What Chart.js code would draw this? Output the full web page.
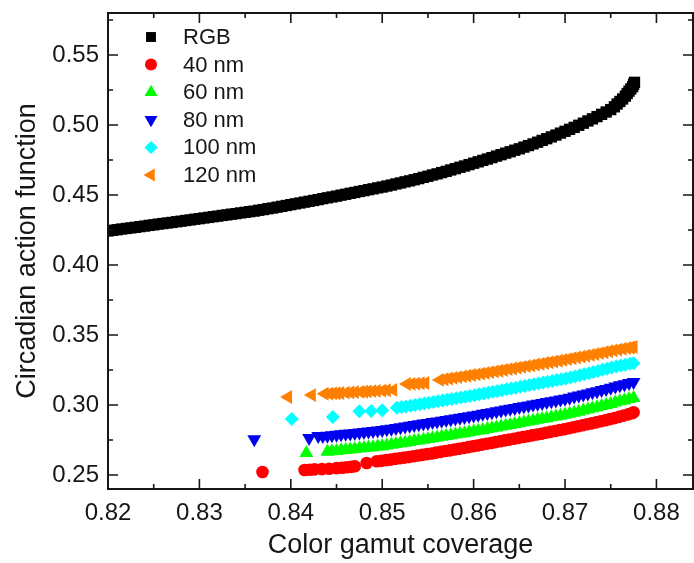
<!DOCTYPE html>
<html>
<head>
<meta charset="utf-8">
<script src="https://cdn.jsdelivr.net/npm/chart.js@4.4.1/dist/chart.umd.min.js"></script>
<style>
  html, body { margin: 0; padding: 0; background: #fff; overflow: hidden; }
  #wrap { width: 694px; height: 563px; }
  canvas { display: block; }
</style>
</head>
<body>
<div id="wrap"><canvas id="chart"></canvas></div>
<script>
// values
const rgbX = [0.8200, 0.8205, 0.8210, 0.8215, 0.8220, 0.8225, 0.8230, 0.8235, 0.8240, 0.8245,
  0.8250, 0.8255, 0.8260, 0.8265, 0.8270, 0.8275, 0.8280, 0.8285, 0.8290, 0.8295,
  0.8300, 0.8305, 0.8310, 0.8315, 0.8320, 0.8325, 0.8330, 0.8335, 0.8340, 0.8345,
  0.8350, 0.8355, 0.8360, 0.8365, 0.8370, 0.8375, 0.8380, 0.8385, 0.8390, 0.8395,
  0.8400, 0.8405, 0.8410, 0.8415, 0.8420, 0.8425, 0.8430, 0.8435, 0.8440, 0.8445,
  0.8450, 0.8455, 0.8460, 0.8465, 0.8470, 0.8475, 0.8480, 0.8485, 0.8490, 0.8495,
  0.8500, 0.8505, 0.8510, 0.8515, 0.8520, 0.8525, 0.8530, 0.8535, 0.8540, 0.8545,
  0.8550, 0.8555, 0.8560, 0.8565, 0.8570, 0.8575, 0.8580, 0.8585, 0.8590, 0.8595,
  0.8600, 0.8605, 0.8610, 0.8615, 0.8620, 0.8625, 0.8630, 0.8635, 0.8640, 0.8645,
  0.8650, 0.8655, 0.8660, 0.8665, 0.8670, 0.8675, 0.8680, 0.8685, 0.8690, 0.8695,
  0.8700, 0.8705, 0.8710, 0.8715, 0.8720, 0.8725, 0.8730, 0.8735, 0.8740, 0.8745,
  0.8750, 0.8754, 0.8757, 0.8760, 0.8763, 0.8766, 0.8768, 0.8770, 0.8772, 0.8774,
  0.8775, 0.8776];
const rgbY = [0.4243, 0.4248, 0.4252, 0.4257, 0.4261, 0.4265, 0.4269, 0.4274, 0.4278, 0.4283,
  0.4287, 0.4292, 0.4296, 0.4300, 0.4304, 0.4309, 0.4313, 0.4318, 0.4322, 0.4327,
  0.4331, 0.4336, 0.4340, 0.4345, 0.4349, 0.4354, 0.4358, 0.4363, 0.4367, 0.4372,
  0.4376, 0.4381, 0.4385, 0.4391, 0.4396, 0.4402, 0.4407, 0.4413, 0.4419, 0.4425,
  0.4431, 0.4437, 0.4443, 0.4449, 0.4455, 0.4461, 0.4467, 0.4474, 0.4480, 0.4486,
  0.4492, 0.4499, 0.4505, 0.4512, 0.4518, 0.4525, 0.4531, 0.4538, 0.4544, 0.4551,
  0.4557, 0.4564, 0.4571, 0.4579, 0.4586, 0.4594, 0.4601, 0.4609, 0.4617, 0.4626,
  0.4634, 0.4643, 0.4651, 0.4660, 0.4669, 0.4679, 0.4688, 0.4698, 0.4707, 0.4717,
  0.4727, 0.4737, 0.4747, 0.4757, 0.4767, 0.4778, 0.4788, 0.4799, 0.4809, 0.4820,
  0.4830, 0.4842, 0.4853, 0.4865, 0.4877, 0.4890, 0.4902, 0.4915, 0.4928, 0.4942,
  0.4955, 0.4969, 0.4983, 0.4998, 0.5013, 0.5029, 0.5044, 0.5060, 0.5076, 0.5093,
  0.5110, 0.5130, 0.5150, 0.5168, 0.5186, 0.5206, 0.5225, 0.5242, 0.5258, 0.5274,
  0.5290, 0.5305];

const nm40X = [0.8369, 0.8415, 0.8421, 0.8426, 0.8434, 0.8442, 0.8450, 0.8456, 0.8461, 0.8466,
  0.8470, 0.8483,
  0.8494, 0.8499, 0.8504, 0.8509, 0.8514, 0.8519, 0.8524, 0.8529, 0.8534, 0.8539,
  0.8544, 0.8549, 0.8554, 0.8559, 0.8564, 0.8569, 0.8574, 0.8579, 0.8584, 0.8589,
  0.8594, 0.8599, 0.8604, 0.8609, 0.8614, 0.8619, 0.8624, 0.8629, 0.8634, 0.8639,
  0.8644, 0.8649, 0.8654, 0.8659, 0.8664, 0.8669, 0.8674, 0.8679, 0.8684, 0.8689,
  0.8694, 0.8699, 0.8704, 0.8709, 0.8714, 0.8719, 0.8724, 0.8729, 0.8734, 0.8739,
  0.8744, 0.8749, 0.8754, 0.8759, 0.8764, 0.8769, 0.8773, 0.8775];
const nm40Y = [0.2521, 0.2536, 0.2538, 0.2540, 0.2542, 0.2545, 0.2549, 0.2552, 0.2555, 0.2558,
  0.2562, 0.2586,
  0.2598, 0.2601, 0.2606, 0.2610, 0.2615, 0.2620, 0.2624, 0.2629, 0.2634, 0.2639,
  0.2644, 0.2649, 0.2654, 0.2660, 0.2665, 0.2671, 0.2676, 0.2682, 0.2688, 0.2693,
  0.2699, 0.2705, 0.2711, 0.2717, 0.2723, 0.2729, 0.2735, 0.2741, 0.2747, 0.2753,
  0.2759, 0.2765, 0.2771, 0.2777, 0.2783, 0.2789, 0.2795, 0.2802, 0.2808, 0.2814,
  0.2821, 0.2827, 0.2834, 0.2841, 0.2848, 0.2855, 0.2862, 0.2869, 0.2876, 0.2884,
  0.2891, 0.2899, 0.2906, 0.2915, 0.2924, 0.2933, 0.2941, 0.2948];

const nm60X = [0.8417,
  0.8440, 0.8445, 0.8450, 0.8455, 0.8460, 0.8465, 0.8470, 0.8475, 0.8480, 0.8485,
  0.8490, 0.8495, 0.8500, 0.8505, 0.8510, 0.8515, 0.8520, 0.8525, 0.8530, 0.8535,
  0.8540, 0.8545, 0.8550, 0.8555, 0.8560, 0.8565, 0.8570, 0.8575, 0.8580, 0.8585,
  0.8590, 0.8595, 0.8600, 0.8605, 0.8610, 0.8615, 0.8620, 0.8625, 0.8630, 0.8635,
  0.8640, 0.8645, 0.8650, 0.8655, 0.8660, 0.8665, 0.8670, 0.8675, 0.8680, 0.8685,
  0.8690, 0.8695, 0.8700, 0.8705, 0.8710, 0.8715, 0.8720, 0.8725, 0.8730, 0.8735,
  0.8740, 0.8745, 0.8750, 0.8755, 0.8760, 0.8765, 0.8770, 0.8775];
const nm60Y = [0.2657,
  0.2666, 0.2669, 0.2672, 0.2676, 0.2679, 0.2682, 0.2685, 0.2689, 0.2692, 0.2696,
  0.2699, 0.2703, 0.2706, 0.2711, 0.2716, 0.2721, 0.2726, 0.2731, 0.2736, 0.2742,
  0.2747, 0.2752, 0.2757, 0.2763, 0.2768, 0.2773, 0.2778, 0.2784, 0.2789, 0.2794,
  0.2799, 0.2805, 0.2810, 0.2816, 0.2822, 0.2828, 0.2834, 0.2840, 0.2846, 0.2852,
  0.2858, 0.2864, 0.2870, 0.2876, 0.2882, 0.2888, 0.2894, 0.2900, 0.2906, 0.2912,
  0.2918, 0.2924, 0.2930, 0.2937, 0.2945, 0.2952, 0.2960, 0.2968, 0.2976, 0.2984,
  0.2992, 0.3000, 0.3008, 0.3017, 0.3026, 0.3034, 0.3042, 0.3050];

const nm80X = [0.8360, 0.8420, 0.8430, 0.8435,
  0.8440, 0.8445, 0.8450, 0.8455, 0.8460, 0.8465, 0.8470, 0.8475, 0.8480, 0.8485,
  0.8490, 0.8495, 0.8500, 0.8505, 0.8510, 0.8515, 0.8520, 0.8525, 0.8530, 0.8535,
  0.8540, 0.8545, 0.8550, 0.8555, 0.8560, 0.8565, 0.8570, 0.8575, 0.8580, 0.8585,
  0.8590, 0.8595, 0.8600, 0.8605, 0.8610, 0.8615, 0.8620, 0.8625, 0.8630, 0.8635,
  0.8640, 0.8645, 0.8650, 0.8655, 0.8660, 0.8665, 0.8670, 0.8675, 0.8680, 0.8685,
  0.8690, 0.8695, 0.8700, 0.8705, 0.8710, 0.8715, 0.8720, 0.8725, 0.8730, 0.8735,
  0.8740, 0.8745, 0.8750, 0.8755, 0.8760, 0.8765, 0.8770, 0.8775];
const nm80Y = [0.2755, 0.2764, 0.2778, 0.2779,
  0.2781, 0.2784, 0.2787, 0.2791, 0.2794, 0.2797, 0.2800, 0.2804, 0.2807, 0.2811,
  0.2814, 0.2818, 0.2821, 0.2826, 0.2831, 0.2836, 0.2841, 0.2846, 0.2851, 0.2857,
  0.2862, 0.2867, 0.2872, 0.2878, 0.2883, 0.2888, 0.2893, 0.2899, 0.2904, 0.2909,
  0.2914, 0.2920, 0.2925, 0.2931, 0.2937, 0.2943, 0.2949, 0.2955, 0.2961, 0.2967,
  0.2973, 0.2979, 0.2985, 0.2991, 0.2997, 0.3003, 0.3009, 0.3015, 0.3021, 0.3027,
  0.3033, 0.3039, 0.3045, 0.3052, 0.3060, 0.3067, 0.3075, 0.3083, 0.3091, 0.3099,
  0.3107, 0.3115, 0.3123, 0.3132, 0.3141, 0.3149, 0.3157, 0.3164];

const nm100X = [0.8401, 0.8446, 0.8475, 0.8488, 0.8500,
  0.8516, 0.8521, 0.8526, 0.8531, 0.8536, 0.8541, 0.8546, 0.8551, 0.8556, 0.8561,
  0.8566, 0.8571, 0.8576, 0.8581, 0.8586, 0.8591, 0.8596, 0.8601, 0.8606, 0.8611,
  0.8616, 0.8621, 0.8626, 0.8631, 0.8636, 0.8641, 0.8646, 0.8651, 0.8656, 0.8661,
  0.8666, 0.8671, 0.8676, 0.8681, 0.8686, 0.8691, 0.8696, 0.8701, 0.8706, 0.8711,
  0.8716, 0.8721, 0.8726, 0.8731, 0.8736, 0.8741, 0.8746, 0.8751, 0.8756, 0.8761,
  0.8766, 0.8771, 0.8775];
const nm100Y = [0.2900, 0.2914, 0.2955, 0.2958, 0.2962,
  0.2980, 0.2985, 0.2990, 0.2995, 0.3000, 0.3006, 0.3011, 0.3016, 0.3021, 0.3027,
  0.3032, 0.3038, 0.3043, 0.3049, 0.3054, 0.3059, 0.3064, 0.3070, 0.3076, 0.3082,
  0.3088, 0.3094, 0.3100, 0.3106, 0.3112, 0.3118, 0.3124, 0.3130, 0.3136, 0.3142,
  0.3148, 0.3154, 0.3160, 0.3166, 0.3172, 0.3178, 0.3184, 0.3190, 0.3197, 0.3204,
  0.3212, 0.3219, 0.3227, 0.3235, 0.3243, 0.3251, 0.3259, 0.3267, 0.3275, 0.3282,
  0.3288, 0.3294, 0.3299];

const nm120X = [0.8397, 0.8423,
  0.8437, 0.8442, 0.8446, 0.8450, 0.8454, 0.8460, 0.8465, 0.8470, 0.8476, 0.8480,
  0.8484, 0.8489, 0.8494, 0.8500, 0.8505, 0.8512,
  0.8527, 0.8532, 0.8537, 0.8542, 0.8547,
  0.8563, 0.8568, 0.8573, 0.8578, 0.8583, 0.8588, 0.8593, 0.8598, 0.8603, 0.8608,
  0.8613, 0.8618, 0.8623, 0.8628, 0.8633, 0.8638, 0.8643, 0.8648, 0.8653, 0.8658,
  0.8663, 0.8668, 0.8673, 0.8678, 0.8683, 0.8688, 0.8693, 0.8698, 0.8703, 0.8708,
  0.8713, 0.8718, 0.8723, 0.8728, 0.8733, 0.8738, 0.8743, 0.8748, 0.8753, 0.8758,
  0.8763, 0.8768, 0.8772, 0.8775];
const nm120Y = [0.3057, 0.3071,
  0.3080, 0.3081, 0.3083, 0.3084, 0.3086, 0.3088, 0.3090, 0.3092, 0.3094, 0.3095,
  0.3097, 0.3099, 0.3101, 0.3103, 0.3105, 0.3108,
  0.3150, 0.3151, 0.3153, 0.3155, 0.3157,
  0.3179, 0.3184, 0.3189, 0.3194, 0.3199, 0.3204, 0.3209, 0.3214, 0.3219, 0.3224,
  0.3229, 0.3235, 0.3240, 0.3245, 0.3250, 0.3256, 0.3261, 0.3267, 0.3272, 0.3278,
  0.3283, 0.3289, 0.3294, 0.3300, 0.3305, 0.3311, 0.3316, 0.3322, 0.3328, 0.3334,
  0.3340, 0.3346, 0.3352, 0.3358, 0.3364, 0.3371, 0.3377, 0.3384, 0.3390, 0.3396,
  0.3402, 0.3407, 0.3411, 0.3414];

const xTicks = [0.82, 0.825, 0.83, 0.835, 0.84, 0.845, 0.85, 0.855, 0.86, 0.865, 0.87, 0.875, 0.88];
const xLabels = ['0.82', '0.83', '0.84', '0.85', '0.86', '0.87', '0.88'];
const yTicks = [0.25, 0.275, 0.30, 0.325, 0.35, 0.375, 0.40, 0.425, 0.45, 0.475, 0.50, 0.525, 0.55, 0.575];
const yLabels = ['0.25', '0.30', '0.35', '0.40', '0.45', '0.50', '0.55'];

const FONT = "'Liberation Sans', Arial, sans-serif";
const INK = '#161616';

function pts(xs, ys) {
  return xs.map((x, i) => ({ x: x, y: ys[i] }));
}

function isMajor(v, labels) {
  return labels.some(l => Math.abs(parseFloat(l) - v) < 1e-6);
}

function series(label, xs, ys, color, style, radius, rotation) {
  return {
    label: label,
    data: pts(xs, ys),
    pointStyle: style,
    pointRadius: radius,
    pointHoverRadius: radius,
    rotation: rotation,
    backgroundColor: color,
    borderColor: color,
    borderWidth: 0
  };
}

// frame with inward ticks on all four sides
const framePlugin = {
  id: 'frame',
  afterDraw(chart) {
    const { ctx, chartArea: a, scales } = chart;
    ctx.save();
    ctx.strokeStyle = INK;
    ctx.lineWidth = 2;
    ctx.strokeRect(a.left, a.top, a.right - a.left, a.bottom - a.top);
    ctx.lineWidth = 1.6;
    ctx.beginPath();
    xTicks.forEach(v => {
      const p = scales.x.getPixelForValue(v);
      const len = isMajor(v, xLabels) ? 10 : 5;
      ctx.moveTo(p, a.bottom); ctx.lineTo(p, a.bottom - len);
      ctx.moveTo(p, a.top); ctx.lineTo(p, a.top + len);
    });
    yTicks.forEach(v => {
      const p = scales.y.getPixelForValue(v);
      const len = isMajor(v, yLabels) ? 10 : 5;
      ctx.moveTo(a.left, p); ctx.lineTo(a.left + len, p);
      ctx.moveTo(a.right, p); ctx.lineTo(a.right - len, p);
    });
    ctx.stroke();
    ctx.restore();
  }
};

// legend in the upper left corner of the plot
const legendPlugin = {
  id: 'cornerLegend',
  afterDraw(chart) {
    const { ctx, chartArea: a } = chart;
    const sizes = [7, 6, 7.5, 7.5, 6.5, 7.5];
    ctx.save();
    ctx.font = '22px ' + FONT;
    ctx.textBaseline = 'middle';
    ctx.textAlign = 'left';
    chart.data.datasets.forEach((ds, i) => {
      const cy = a.top + 24 + i * 27.6;
      const cx = a.left + 43;
      ctx.fillStyle = ds.backgroundColor;
      ctx.strokeStyle = ds.backgroundColor;
      Chart.helpers.drawPoint(ctx, { pointStyle: ds.pointStyle, rotation: ds.rotation, radius: sizes[i], borderWidth: 0 }, cx, cy);
      ctx.fillStyle = INK;
      ctx.fillText(ds.label, a.left + 75, cy + 1);
    });
    ctx.restore();
  }
};

new Chart(document.getElementById('chart'), {
  type: 'scatter',
  data: {
    datasets: [
      series('RGB', rgbX, rgbY, '#000000', 'rect', 8, 0),
      series('40 nm', nm40X, nm40Y, '#FF0000', 'circle', 6.3, 0),
      series('60 nm', nm60X, nm60Y, '#00FF00', 'triangle', 8, 0),
      series('80 nm', nm80X, nm80Y, '#0000F0', 'triangle', 8, 180),
      series('100 nm', nm100X, nm100Y, '#00FFFF', 'rectRot', 7, 0),
      series('120 nm', nm120X, nm120Y, '#FF8000', 'triangle', 8, -90)
    ]
  },
  options: {
    responsive: true,
    maintainAspectRatio: false,
    animation: false,
    layout: { autoPadding: false, padding: { top: 13, right: 1, left: 0, bottom: 0 } },
    plugins: {
      legend: { display: false },
      tooltip: { enabled: false }
    },
    scales: {
      x: {
        type: 'linear',
        min: 0.82,
        max: 0.884,
        afterBuildTicks: s => { s.ticks = xLabels.map(l => ({ value: parseFloat(l) })); },
        afterFit: s => { s.height = 74; s.paddingLeft = 0; s.paddingRight = 0; },
        grid: { display: false, drawTicks: false },
        border: { display: false },
        ticks: {
          autoSkip: false,
          maxRotation: 0,
          padding: 10,
          color: INK,
          font: { family: FONT, size: 24 },
          callback: v => v.toFixed(2)
        },
        title: {
          display: true,
          text: 'Color gamut coverage',
          color: INK,
          font: { family: FONT, size: 27 },
          padding: { top: 0, bottom: 1 }
        }
      },
      y: {
        type: 'linear',
        min: 0.24,
        max: 0.58,
        afterBuildTicks: s => { s.ticks = yLabels.map(l => ({ value: parseFloat(l) })); },
        afterFit: s => { s.width = 108; s.paddingTop = 0; s.paddingBottom = 0; },
        grid: { display: false, drawTicks: false },
        border: { display: false },
        ticks: {
          autoSkip: false,
          padding: 9,
          color: INK,
          font: { family: FONT, size: 24 },
          callback: v => v.toFixed(2)
        },
        title: {
          display: true,
          text: 'Circadian action function',
          color: INK,
          font: { family: FONT, size: 27 },
          padding: { top: 11, bottom: 0 }
        }
      }
    }
  },
  plugins: [framePlugin, legendPlugin]
});
</script>
</body>
</html>
